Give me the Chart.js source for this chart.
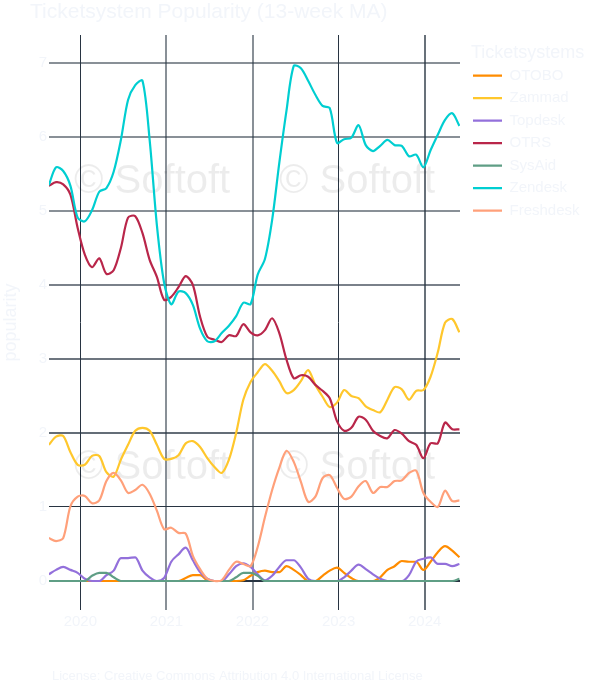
<!DOCTYPE html>
<html>
<head>
<meta charset="utf-8">
<style>html,body{margin:0;padding:0;background:#fff}canvas{display:block}</style>
<script src="https://cdn.jsdelivr.net/npm/chart.js@4"></script>
</head>
<body>
<canvas id="c" width="600" height="700" style="width:600px;height:700px"></canvas>
<script>
const sampleYears = [2019.634,2019.718,2019.801,2019.885,2019.969,2020.052,2020.136,2020.220,2020.303,2020.387,2020.471,2020.554,2020.638,2020.722,2020.805,2020.889,2020.973,2021.056,2021.140,2021.224,2021.307,2021.391,2021.475,2021.558,2021.642,2021.726,2021.810,2021.893,2021.977,2022.060,2022.144,2022.228,2022.311,2022.395,2022.479,2022.562,2022.646,2022.730,2022.814,2022.897,2022.981,2023.064,2023.148,2023.232,2023.315,2023.399,2023.483,2023.567,2023.650,2023.734,2023.818,2023.901,2023.985,2024.068,2024.152,2024.236,2024.320,2024.403];
const otobo = [0,0,0,0,0,0,0,0,0,0,0,0,0,0,0,0,0,0,0,.04,.08,.08,.01,0,0,0,0,.01,.07,.12,.14,.12,.12,.20,.15,.08,0,0,.07,.14,.18,.11,.04,0,0,0,.05,.15,.20,.27,.26,.26,.15,.26,.39,.47,.41,.32];
const zammad = [1.84,1.95,1.96,1.74,1.57,1.57,1.69,1.69,1.47,1.41,1.64,1.84,2.03,2.07,2.03,1.84,1.65,1.65,1.70,1.86,1.89,1.81,1.66,1.54,1.46,1.64,2.00,2.45,2.69,2.82,2.93,2.84,2.70,2.54,2.58,2.70,2.85,2.65,2.49,2.35,2.41,2.58,2.50,2.47,2.36,2.31,2.28,2.45,2.62,2.59,2.45,2.57,2.58,2.76,3.09,3.49,3.54,3.36];
const topdesk = [.09,.15,.19,.15,.11,.03,0,0,.08,.14,.31,.31,.32,.14,.05,0,.04,.26,.36,.45,.28,.12,.03,0,0,.09,.20,.24,.19,.09,.01,.07,.19,.28,.28,.18,.03,0,0,0,0,.05,.14,.22,.16,.09,.03,0,0,0,.08,.26,.30,.32,.23,.23,.20,.23];
const otrs = [5.34,5.39,5.36,5.22,4.77,4.41,4.24,4.36,4.15,4.20,4.50,4.91,4.93,4.70,4.34,4.11,3.80,3.84,3.97,4.12,4.00,3.57,3.30,3.26,3.23,3.32,3.31,3.47,3.36,3.32,3.39,3.55,3.35,2.99,2.74,2.78,2.76,2.65,2.57,2.47,2.16,2.03,2.07,2.22,2.18,2.03,1.96,1.93,2.04,1.99,1.89,1.84,1.66,1.86,1.86,2.14,2.05,2.05];
const sysaid = [0,0,0,0,0,0,.07,.11,.11,.05,0,0,0,0,0,0,0,0,0,0,0,0,0,0,0,0,.05,.11,.11,.07,0,0,0,0,0,0,0,0,0,0,0,0,0,0,0,0,0,0,0,0,0,0,0,0,0,0,0,.03];
const zendesk = [5.35,5.59,5.54,5.34,4.91,4.86,5.01,5.26,5.31,5.53,5.96,6.50,6.70,6.76,5.96,4.81,4.03,3.74,3.91,3.89,3.73,3.41,3.24,3.24,3.35,3.45,3.58,3.76,3.74,4.14,4.35,4.88,5.65,6.36,6.96,6.93,6.76,6.57,6.42,6.39,5.92,5.97,5.99,6.16,5.89,5.81,5.88,5.96,5.89,5.88,5.74,5.76,5.59,5.82,6.03,6.23,6.32,6.15];
const freshdesk = [.58,.54,.58,1.01,1.14,1.15,1.05,1.09,1.35,1.46,1.36,1.19,1.23,1.30,1.18,.95,.70,.72,.65,.64,.34,.16,.03,0,.01,.15,.26,.23,.20,.46,.86,1.23,1.53,1.76,1.61,1.34,1.07,1.14,1.39,1.43,1.26,1.11,1.14,1.28,1.35,1.19,1.27,1.27,1.35,1.36,1.46,1.49,1.19,1.07,1.00,1.22,1.08,1.09];

const seriesNames = ["OTOBO","Zammad","Topdesk","OTRS","SysAid","Zendesk","Freshdesk"];
const seriesValues = [otobo,zammad,topdesk,otrs,sysaid,zendesk,freshdesk];
const seriesColors = ["#ff8c00","#ffc72c","#9370db","#b9264a","#5f9e85","#00ced1","#ffa07a"];
const smoothSeries = ["Zammad","OTRS","Zendesk","Freshdesk"];

const titleText = "Ticketsystem Popularity (13-week MA)";
const licenseText = "License: Creative Commons Attribution 4.0 International License";
const legendTitleText = "Ticketsystems";
const axisTitleText = "popularity";
const watermarkText = "© Softoft";
const textColor = "#f2f5fa";
const fontFamily = "'Liberation Sans', Arial, sans-serif";
const gridRgb = "40,52,66";
const yGridStyle = {7:[2,.55],6:[2,.55],5:[2,.55],4:[2,.62],3:[2,.68],2:[2,.72],1:[1,1],0:[2,1]};
const xGridStyle = {2020:[1,1],2021:[2,.55],2022:[2,.55],2023:[1,1],2024:[2,.7]};

const layoutTweaks = {
  id: "layoutTweaks",
  beforeLayout(chart) {
    const lg = chart.legend;
    if (lg && !lg._wrapped) {
      const f = lg.fit;
      lg.fit = function () { f.call(this); this.width = 140; };
      const dt = lg.drawTitle;
      lg.drawTitle = function () {
        const l = this.left, t = this.top;
        this.left = 471; this.top = t - 1;
        dt.call(this);
        this.left = l; this.top = t;
      };
      lg._wrapped = true;
    }
  },
  afterLayout(chart) {
    for (const b of chart.boxes) {
      if (b.options && b.options.text === titleText) { b.left = 30; }
      if (b.options && b.options.text === licenseText) { b.left = 52; }
    }
    const lg = chart.legend;
    lg.left = 465.5; lg.right = 600; lg.top = 45;
    lg.adjustHitBoxes();
  }
};

const watermark = {
  id: "watermark",
  beforeDatasetsDraw(chart) {
    const ctx = chart.ctx;
    ctx.save();
    ctx.font = "40px " + fontFamily;
    ctx.fillStyle = "rgba(0,0,0,0.075)";
    ctx.textBaseline = "alphabetic";
    ctx.textAlign = "left";
    for (const y of [193, 479]) for (const x of [74, 279]) ctx.fillText(watermarkText, x, y);
    ctx.restore();
  }
};

const gridWidth = (table) => (c) => (c.tick && table[c.tick.value] ? table[c.tick.value][0] : 1);
const gridColorFor = (table) => (c) => "rgba(" + gridRgb + "," + (c.tick && table[c.tick.value] ? table[c.tick.value][1] : 1) + ")";

new Chart(document.getElementById("c"), {
  type: "line",
  plugins: [layoutTweaks, watermark],
  data: {
    labels: sampleYears,
    datasets: seriesNames.map((n, i) => {
      const smooth = smoothSeries.includes(n);
      return {
        label: n,
        data: seriesValues[i],
        borderColor: seriesColors[i],
        backgroundColor: seriesColors[i],
        borderWidth: 2.2,
        pointRadius: 0,
        fill: false,
        tension: smooth ? 0.3 : 0,
        cubicInterpolationMode: smooth ? "default" : "monotone",
        order: seriesNames.length - i
      };
    })
  },
  options: {
    responsive: false,
    animation: false,
    devicePixelRatio: 1,
    layout: { padding: 0 },
    font: { family: fontFamily },
    plugins: {
      tooltip: { enabled: false },
      title: {
        display: true, text: titleText, align: "start", color: textColor,
        font: { family: fontFamily, size: 21, weight: "normal", lineHeight: 1.2 },
        padding: { top: 0, bottom: 9.8 }
      },
      subtitle: {
        display: true, text: licenseText, position: "bottom", align: "start", color: textColor,
        font: { family: fontFamily, size: 13, weight: "normal", lineHeight: 1.2 },
        padding: { top: 0, bottom: 16.2 }
      },
      legend: {
        display: true, position: "right", align: "start",
        title: { display: true, text: legendTitleText, color: textColor, position: "start",
                 padding: { top: 0, bottom: -6 },
                 font: { family: fontFamily, size: 18 } },
        labels: {
          color: textColor, boxWidth: 29, boxHeight: 2.4, padding: 7.5,
          font: { family: fontFamily, size: 15 },
          sort: (a, b) => a.datasetIndex - b.datasetIndex,
          generateLabels: c => Chart.defaults.plugins.legend.labels.generateLabels(c).map(l => ({ ...l, lineWidth: 0 }))
        }
      }
    },
    scales: {
      x: {
        type: "linear", min: 2019.636, max: 2024.41,
        afterFit(s) { s.height = 58.2; },
        border: { display: false },
        grid: { color: gridColorFor(xGridStyle), lineWidth: gridWidth(xGridStyle), drawTicks: false },
        ticks: { stepSize: 1, includeBounds: false, color: textColor, padding: 3, maxRotation: 0,
                 font: { family: fontFamily, size: 15 }, callback: v => String(v) }
      },
      y: {
        min: -0.392, max: 7.378,
        afterFit(s) { s.width = 49; },
        border: { display: false },
        title: { display: true, text: axisTitleText, color: textColor, padding: 0,
                 font: { family: fontFamily, size: 18 } },
        grid: { color: gridColorFor(yGridStyle), lineWidth: gridWidth(yGridStyle), drawTicks: false },
        ticks: { stepSize: 1, includeBounds: false, color: textColor, padding: 2,
                 font: { family: fontFamily, size: 15 }, callback: v => String(v) }
      }
    }
  }
});
</script>
</body>
</html>
